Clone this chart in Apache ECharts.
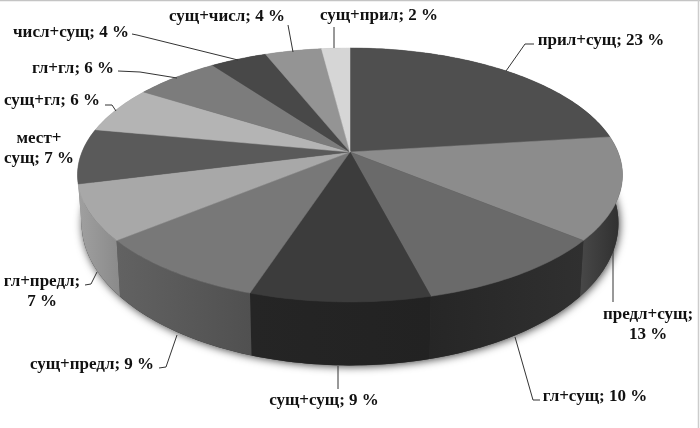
<!DOCTYPE html>
<html>
<head>
<meta charset="utf-8">
<script src="https://cdn.jsdelivr.net/npm/echarts@6/dist/echarts.min.js"></script>
<style>
html, body { margin: 0; padding: 0; background: #fff; }
#mainChart { width: 700px; height: 428px; }
</style>
</head>
<body>
<div id="mainChart"></div>
<script>
var categories = ["прил+сущ", "предл+сущ", "гл+сущ", "сущ+сущ", "сущ+предл", "гл+предл", "мест+сущ", "сущ+гл", "гл+гл", "числ+сущ", "сущ+числ", "сущ+прил"];
var values = [23, 13, 10, 9, 9, 7, 7, 6, 6, 4, 4, 2];

// label text with the line breaks of the picture
var labelTexts = ["прил+сущ; 23 %", "предл+сущ;\n13 %", "гл+сущ; 10 %", "сущ+сущ; 9 %", "сущ+предл; 9 %", "гл+предл;\n7 %", "мест+\nсущ; 7 %", "сущ+гл; 6 %", "гл+гл; 6 %", "числ+сущ; 4 %", "сущ+числ; 4 %", "сущ+прил; 2 %"];

var topColors = ["#4f4f4f", "#8c8c8c", "#6a6a6a", "#3c3c3c", "#787878", "#a8a8a8", "#5a5a5a", "#b4b4b4", "#7c7c7c", "#484848", "#949494", "#d6d6d6"];
var wallColors = [
    ["#333333", "#333333"], ["#2e2e2e", "#484848"], ["#303030", "#262626"], ["#222222", "#252525"],
    ["#505050", "#626262"], ["#8a8a8a", "#a0a0a0"], ["#8a8a8a", "#8a8a8a"], ["#999999", "#999999"],
    ["#666666", "#666666"], ["#333333", "#333333"], ["#777777", "#777777"], ["#aaaaaa", "#aaaaaa"]
];

var labelCenters = [[601, 41], [648, 325], [595, 397], [324, 401], [92, 365], [42, 292], [39, 149], [52, 101], [73, 69], [71, 33], [227, 17], [379, 16]];
var leaders = [
    [[534, 44], [525, 44], [506, 71]],
    [[613, 246], [613, 302]],
    [[515, 337], [533, 400], [540, 400]],
    [[338, 366], [338, 389]],
    [[177, 335], [166, 367], [159, 368]],
    [[97, 272], [91, 284], [85, 285]],
    [],
    [[105, 105], [112, 105], [116, 111]],
    [[118, 71], [140, 72], [177, 78]],
    [[132, 34], [137, 35], [238, 60]],
    [[288, 25], [293, 52]],
    [[334, 27], [334, 48]]
];

// walls are painted back to front, so the hidden ones do not cover the visible ones
var wallOrder = [0, 11, 10, 9, 8, 7, 6, 1, 2, 3, 4, 5];

// perspective of the disc: top face and lower rim
var cx = 350, k = 0.181;
var topRim = { y: 152, rx: 268, ry: 122.8 };
var lowRim = { y: 197.5, rx: 264, ry: 137.5 };

var total = 0;
var starts = [];
for (var i = 0; i < values.length; i++) {
    starts.push(total);
    total += values[i];
}

function rimPoint(rim, a) {
    var u = Math.sin(a), v = Math.cos(a), w = 1 + k * v;
    return [cx + rim.rx * u / w, rim.y - rim.ry * v / w];
}

function arcPoints(rim, a0, a1) {
    var n = Math.max(2, Math.ceil((a1 - a0) / 0.02));
    var pts = [];
    for (var j = 0; j <= n; j++) {
        pts.push(rimPoint(rim, a0 + (a1 - a0) * j / n));
    }
    return pts;
}

function sliceAngles(idx) {
    var a0 = starts[idx] / total * Math.PI * 2;
    return [a0, a0 + values[idx] / total * Math.PI * 2];
}

function renderBase(params, api) {
    return {
        type: "polygon",
        shape: { points: arcPoints(lowRim, 0, Math.PI * 2) },
        style: { fill: "#333", shadowBlur: 9, shadowColor: "rgba(0,0,0,0.75)", shadowOffsetX: 1, shadowOffsetY: 1 }
    };
}

function renderWall(params, api) {
    var idx = wallOrder[params.dataIndex], a = sliceAngles(idx);
    var upper = arcPoints(topRim, a[0], a[1]);
    var lower = arcPoints(lowRim, a[0], a[1]).reverse();
    var xs = upper.concat(lower).map(function (p) { return p[0]; });
    var x0 = Math.min.apply(null, xs), x1 = Math.max.apply(null, xs);
    return {
        type: "polygon",
        shape: { points: upper.concat(lower) },
        style: {
            fill: new echarts.graphic.LinearGradient(x0, 0, x1, 0, [
                { offset: 0, color: wallColors[idx][1] },
                { offset: 1, color: wallColors[idx][0] }
            ], true)
        }
    };
}

function renderTop(params, api) {
    var idx = params.dataIndex, a = sliceAngles(idx);
    var pts = [[cx, topRim.y]].concat(arcPoints(topRim, a[0], a[1]));
    return {
        type: "polygon",
        shape: { points: pts },
        style: { fill: topColors[idx], stroke: topColors[idx], lineWidth: 0.5 }
    };
}

function renderLabel(params, api) {
    var idx = params.dataIndex;
    var children = [{
        type: "text",
        style: {
            text: labelTexts[idx],
            x: labelCenters[idx][0],
            y: labelCenters[idx][1],
            align: "center",
            verticalAlign: "middle",
            fill: "#111",
            lineHeight: 20,
            font: "bold 17px 'Liberation Serif'"
        }
    }];
    if (leaders[idx].length) {
        children.push({
            type: "polyline",
            shape: { points: leaders[idx] },
            style: { fill: null, stroke: "#333", lineWidth: 1 }
        });
    }
    return { type: "group", children: children };
}

var rows = categories.map(function (c, i) { return { name: c, value: values[i] }; });

var n = echarts.init(document.getElementById("mainChart"));
n.setOption({
    backgroundColor: "#fff",
    animation: false,
    tooltip: { show: false },
    graphic: [
        { type: "line", silent: true, shape: { x1: 0, y1: 0.5, x2: 700, y2: 0.5 }, style: { stroke: "#c4c4c4", lineWidth: 1.5 } },
        { type: "line", silent: true, shape: { x1: 698.5, y1: 0, x2: 698.5, y2: 428 }, style: { stroke: "#cccccc", lineWidth: 1.5 } }
    ],
    series: [
        { type: "custom", name: "base", coordinateSystem: "none", renderItem: renderBase, data: [1], silent: true, z: 1 },
        { type: "custom", name: "wall", coordinateSystem: "none", renderItem: renderWall, data: rows, silent: true, z: 2 },
        { type: "custom", name: "top", coordinateSystem: "none", renderItem: renderTop, data: rows, silent: true, z: 3 },
        { type: "custom", name: "label", coordinateSystem: "none", renderItem: renderLabel, data: rows, silent: true, z: 4 }
    ]
});
</script>
</body>
</html>
